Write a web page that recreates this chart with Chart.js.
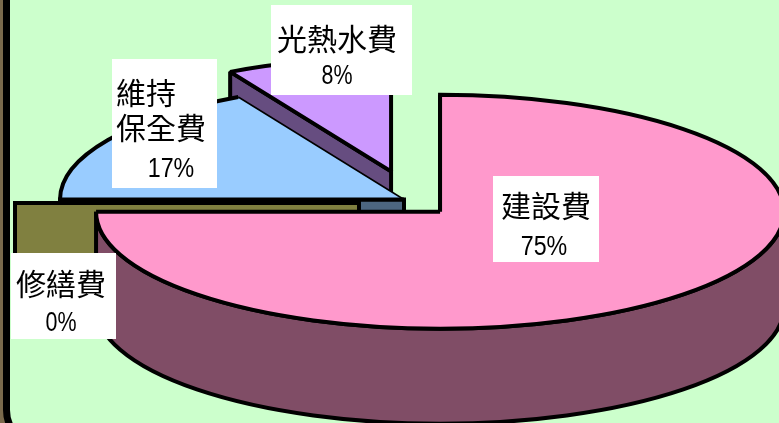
<!DOCTYPE html>
<html>
<head>
<meta charset="utf-8">
<title>費用内訳</title>
<script src="https://cdn.jsdelivr.net/npm/chart.js@4/dist/chart.umd.js"></script>
<style>
  html, body { margin: 0; padding: 0; background: #fff; }
  #frame {
    position: relative;
    width: 779px;
    height: 423px;
    overflow: hidden;
    background: #7a6a4c;
  }
  #panel {
    position: absolute;
    left: 3px;
    top: -12px;
    width: 790px;
    height: 447px;
    background: #ccffcc;
    border: 7px solid #000;
    border-radius: 0 0 0 39px;
  }
  canvas { position: absolute; left: 0; top: 0; }
</style>
</head>
<body>
<div id="frame">
  <div id="panel"></div>
  <canvas id="costChart" width="779" height="423"></canvas>
</div>
<script>
const categories = [['建設費'], ['修繕費'], ['維持', '保全費'], ['光熱水費']];
const shares = [75, 0, 17, 8];

const topColors = ['#ff99cc', '#ffff80', '#99ccff', '#cc99ff'];
const sideColors = ['#804d66', '#808040', '#4d6680', '#664d80'];

// how far each slice is pulled out of the pie, px along its own mid angle
const sliceOffsets = [51, 45, 0, 52];
// extra vertical shift of a slice, up is positive
const sliceLift = [0, -3.5, 0, 11];
// the back slice reads a little narrower than the rest
const sliceTrim = [0, 0, 0, 10];
// line width of the spoke closing each slice
const closingSpokes = [4, 4, 1.5, 4];

const flatten = 0.34;
const depth = 95;
const outline = 4;

// white label plates: box plus x / baseline for every text line
const plates = [
  { box: [493, 176, 106, 86], lines: [[546, 217], [544, 255]] },
  { box: [11, 253, 105, 86], lines: [[61, 295], [61, 331]] },
  { box: [112, 59, 105, 129], lines: [[116, 104, 'left'], [116, 139, 'left'], [171, 177]] },
  { box: [271, 5, 141, 90], lines: [[337, 50], [337, 84]] }
];

const centreOf = (arc, index) => {
  const mid = (arc.startAngle + arc.endAngle) / 2;
  const pull = sliceOffsets[index];
  return {
    x: arc.x + Math.cos(mid) * pull,
    y: arc.y + Math.sin(mid) * pull * flatten - sliceLift[index],
    r: arc.outerRadius - sliceTrim[index]
  };
};

// arc path on the flattened disc; the caller decides what to do with it
const traceRim = (ctx, c, from, to, drop, backwards) => {
  ctx.save();
  ctx.translate(c.x, c.y + drop);
  ctx.scale(1, flatten);
  ctx.arc(0, 0, c.r, from, to, backwards);
  ctx.restore();
};

const setLine = (ctx, width) => {
  ctx.strokeStyle = '#000';
  ctx.lineWidth = width;
  ctx.lineJoin = 'miter';
  ctx.miterLimit = 2;
};

const paintPath = (ctx, fill) => {
  ctx.fillStyle = fill;
  ctx.fill();
  setLine(ctx, outline);
  ctx.stroke();
};

const drawStartFace = (ctx, arc, c, color) => {
  const a = arc.startAngle;
  if (Math.sin(a) > 1e-6) return;
  const ex = c.x + Math.cos(a) * c.r;
  const ey = c.y + Math.sin(a) * c.r * flatten;
  ctx.beginPath();
  ctx.moveTo(c.x, c.y);
  ctx.lineTo(ex, ey);
  ctx.lineTo(ex, ey + depth);
  ctx.lineTo(c.x, c.y + depth);
  ctx.closePath();
  paintPath(ctx, color);
};

// outer wall, only the part of the rim that faces the viewer
const drawWall = (ctx, arc, c, color) => {
  const from = Math.max(arc.startAngle, 0);
  const to = Math.min(arc.endAngle, Math.PI);
  if (to <= from) return;
  ctx.beginPath();
  traceRim(ctx, c, from, to, 0, false);
  traceRim(ctx, c, to, from, depth, true);
  ctx.closePath();
  paintPath(ctx, color);
};

const drawTop = (ctx, arc, c, color, spokeWidth) => {
  if (arc.endAngle - arc.startAngle <= 0) return;
  ctx.beginPath();
  ctx.moveTo(c.x, c.y);
  traceRim(ctx, c, arc.startAngle, arc.endAngle, 0, false);
  ctx.closePath();
  ctx.fillStyle = color;
  ctx.fill();

  ctx.beginPath();
  ctx.moveTo(c.x, c.y);
  traceRim(ctx, c, arc.startAngle, arc.endAngle, 0, false);
  setLine(ctx, outline);
  ctx.stroke();

  ctx.beginPath();
  ctx.moveTo(c.x, c.y);
  ctx.lineTo(c.x + Math.cos(arc.endAngle) * c.r, c.y + Math.sin(arc.endAngle) * c.r * flatten);
  ctx.lineWidth = spokeWidth;
  ctx.stroke();
};

const drawPlate = (ctx, index) => {
  const plate = plates[index];
  const rows = categories[index].concat(`${shares[index]}%`);
  ctx.fillStyle = '#fff';
  ctx.fillRect(...plate.box);
  ctx.fillStyle = '#000';
  ctx.textBaseline = 'alphabetic';
  rows.forEach((text, i) => {
    const [x, y, align] = plate.lines[i];
    const isPercent = i === rows.length - 1;
    ctx.textAlign = align || 'center';
    ctx.font = isPercent ? '28px "Liberation Sans"' : '30px "Noto Sans CJK TC"';
    ctx.fillText(text, x, y, isPercent ? text.length * 15.5 : undefined);
  });
};

// extrudes the library's arcs into a tilted pie, back slices first
const tiltedPie = {
  id: 'tiltedPie',
  beforeDatasetsDraw(chart) {
    const ctx = chart.ctx;
    const arcs = chart.getDatasetMeta(0).data;
    for (let i = arcs.length - 1; i >= 0; i--) {
      const c = centreOf(arcs[i], i);
      drawStartFace(ctx, arcs[i], c, sideColors[i]);
      drawWall(ctx, arcs[i], c, sideColors[i]);
      drawTop(ctx, arcs[i], c, topColors[i], closingSpokes[i]);
    }
    arcs.forEach((arc, i) => drawPlate(ctx, i));
    return false;
  }
};

new Chart(document.getElementById('costChart'), {
  type: 'pie',
  data: {
    labels: categories,
    datasets: [{
      data: shares,
      backgroundColor: topColors,
      borderWidth: 0
    }]
  },
  options: {
    responsive: false,
    animation: false,
    radius: 344,
    layout: { padding: { left: 29, bottom: 24 } },
    plugins: {
      legend: { display: false },
      tooltip: { enabled: false }
    }
  },
  plugins: [tiltedPie]
});
</script>
</body>
</html>
